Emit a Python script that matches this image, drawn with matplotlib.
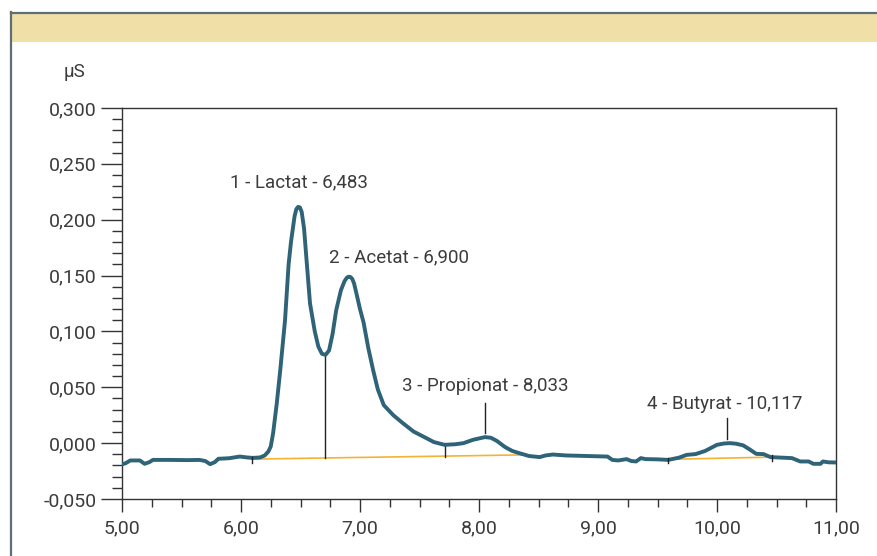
import numpy as np
import matplotlib
matplotlib.use("Agg")
import matplotlib.pyplot as plt
from matplotlib.lines import Line2D
from matplotlib.patches import Rectangle
from matplotlib.ticker import MultipleLocator, FuncFormatter

# ── Data ─────────────────────────────────────────────────────────────────────
time_min = [5.00, 5.03, 5.07, 5.15, 5.19, 5.23, 5.26, 5.40, 5.55, 5.65, 5.70, 5.74,
            5.78, 5.81, 5.90, 5.99, 6.05, 6.10, 6.16, 6.20, 6.23, 6.25, 6.27, 6.30,
            6.33, 6.37, 6.40, 6.42, 6.45, 6.465, 6.48, 6.495, 6.51, 6.53, 6.55, 6.58,
            6.62, 6.65, 6.68, 6.71, 6.74, 6.77, 6.80, 6.84, 6.87, 6.89, 6.905, 6.92,
            6.935, 6.95, 6.97, 7.00, 7.03, 7.07, 7.11, 7.15, 7.20, 7.28, 7.36, 7.45,
            7.53, 7.62, 7.71, 7.80, 7.87, 7.95, 8.05, 8.10, 8.15, 8.22, 8.28, 8.34,
            8.42, 8.51, 8.56, 8.62, 8.73, 8.90, 9.08, 9.12, 9.17, 9.24, 9.28, 9.32,
            9.36, 9.40, 9.50, 9.59, 9.68, 9.745, 9.82, 9.90, 10.00, 10.06, 10.11,
            10.16, 10.22, 10.28, 10.33, 10.39, 10.45, 10.55, 10.63, 10.70, 10.77,
            10.81, 10.87, 10.89, 10.94, 11.00]
signal_us = [-0.019, -0.018, -0.0155, -0.0155, -0.0185, -0.017, -0.015, -0.015, -0.0152,
             -0.015, -0.016, -0.0188, -0.017, -0.014, -0.0135, -0.012, -0.0128, -0.0132,
             -0.0128, -0.011, -0.0075, -0.003, 0.009, 0.035, 0.0655, 0.110, 0.160, 0.180,
             0.203, 0.2095, 0.2115, 0.2110, 0.207, 0.192, 0.165, 0.125, 0.100, 0.0864,
             0.080, 0.079, 0.083, 0.098, 0.119, 0.137, 0.145, 0.1482, 0.149, 0.1487,
             0.147, 0.143, 0.134, 0.120, 0.108, 0.085, 0.0655, 0.048, 0.034, 0.025,
             0.0179, 0.0104, 0.006, 0.001, -0.0015, -0.001, 0.0, 0.003, 0.0054, 0.0048,
             0.002, -0.0036, -0.007, -0.009, -0.0115, -0.0125, -0.011, -0.0102, -0.011,
             -0.0115, -0.012, -0.015, -0.0155, -0.0143, -0.016, -0.0164, -0.0134,
             -0.0143, -0.0145, -0.015, -0.013, -0.0105, -0.0098, -0.007, -0.0015,
             -0.0003, 0.0, -0.0005, -0.002, -0.006, -0.0096, -0.0098, -0.0125, -0.013,
             -0.0134, -0.0164, -0.0164, -0.0185, -0.0185, -0.0164, -0.0172, -0.0173]

# baselines (start, end) and integration marks
baseline_a = ([6.09, 8.37], [-0.0143, -0.0105])
baseline_b = ([9.59, 10.46], [-0.0145, -0.0125])
split_x = [6.71, 7.714]
split_top = [0.079, -0.0015]
split_bottom = [-0.0135, -0.0123]
edge_ticks_x = [6.09, 9.59, 10.46]
edge_ticks_y = [-0.0143, -0.0145, -0.0125]

peak_names = ["1 - Lactat - 6,483", "2 - Acetat - 6,900",
              "3 - Propionat - 8,033", "4 - Butyrat - 10,117"]
label_x = [6.483, 7.33, 8.05, 10.065]
label_y = [0.2335, 0.1665, 0.0513, 0.0352]
marker_x = [8.05, 10.087]
marker_lo = [0.0095, 0.0036]
marker_hi = [0.0357, 0.0223]

# ── Figure ───────────────────────────────────────────────────────────────────
W, H = 877, 556
TXT = "#3c3c3c"
plt.rcParams["font.family"] = ["Roboto", "DejaVu Sans"]

fig = plt.figure(figsize=(W / 100, H / 100), dpi=100)
fig.patch.set_facecolor("white")

# frame + yellow header band
fig.add_artist(Rectangle((11 / W, 1 - 42 / H), 1, 29 / H, transform=fig.transFigure,
                         facecolor="#F0E0A8", edgecolor="none"))
fig.add_artist(Line2D([10.5 / W, 10.5 / W], [0, 1 - 12 / H], transform=fig.transFigure,
                      color="#5F6E75", lw=1.6))
fig.add_artist(Line2D([10.5 / W, 1], [1 - 12.5 / H, 1 - 12.5 / H], transform=fig.transFigure,
                      color="#5F6E75", lw=1.6))

ax = fig.add_axes([122 / W, 1 - 499 / H, (836 - 122) / W, (499 - 108) / H])

ax.plot(*baseline_a, color="#F5B335", lw=1.2, zorder=2)
ax.plot(*baseline_b, color="#F5B335", lw=1.2, zorder=2)
ax.plot(time_min, signal_us, color="#2E6378", lw=2.8, solid_joinstyle="round",
        solid_capstyle="round", zorder=3)

for x, y0, y1 in zip(split_x, split_bottom, split_top):
    ax.plot([x, x], [y0, y1], color="#222222", lw=1, zorder=2)
for x, y in zip(edge_ticks_x, edge_ticks_y):
    ax.plot([x, x], [y - 0.0035, y + 0.0015], color="#222222", lw=1, zorder=4)
for x, y0, y1 in zip(marker_x, marker_lo, marker_hi):
    ax.plot([x, x], [y0, y1], color="#222222", lw=1, zorder=2)

for name, x, y in zip(peak_names, label_x, label_y):
    ax.text(x, y, name, ha="center", va="center", fontsize=13.5, color=TXT)

ax.set_xlim(5, 11)
ax.set_ylim(-0.05, 0.30)
ax.xaxis.set_major_locator(MultipleLocator(1))
ax.xaxis.set_minor_locator(MultipleLocator(0.25))
ax.yaxis.set_major_locator(MultipleLocator(0.05))
ax.yaxis.set_minor_locator(MultipleLocator(0.01))
ax.xaxis.set_major_formatter(FuncFormatter(lambda v, p: f"{v:.2f}".replace(".", ",")))
ax.yaxis.set_major_formatter(FuncFormatter(
    lambda v, p: (f"{v:.3f}".replace(".", ",").replace("-0,000", "0,000"))))

ax.tick_params(axis="y", which="major", length=15, width=1, color="#333333",
               labelsize=14, labelcolor=TXT, pad=3)
ax.tick_params(axis="y", which="minor", length=7, width=1, color="#333333")
ax.tick_params(axis="x", which="major", length=9, width=1, color="#333333",
               labelsize=14, labelcolor=TXT, pad=6)
ax.tick_params(axis="x", which="minor", length=6, width=1, color="#333333")
for s in ax.spines.values():
    s.set_color("#333333")
    s.set_linewidth(1)

fig.text(85 / W, 1 - 72 / H, "µS", ha="right", va="center", fontsize=13.5, color=TXT)

fig.savefig("out.png", dpi=100)
